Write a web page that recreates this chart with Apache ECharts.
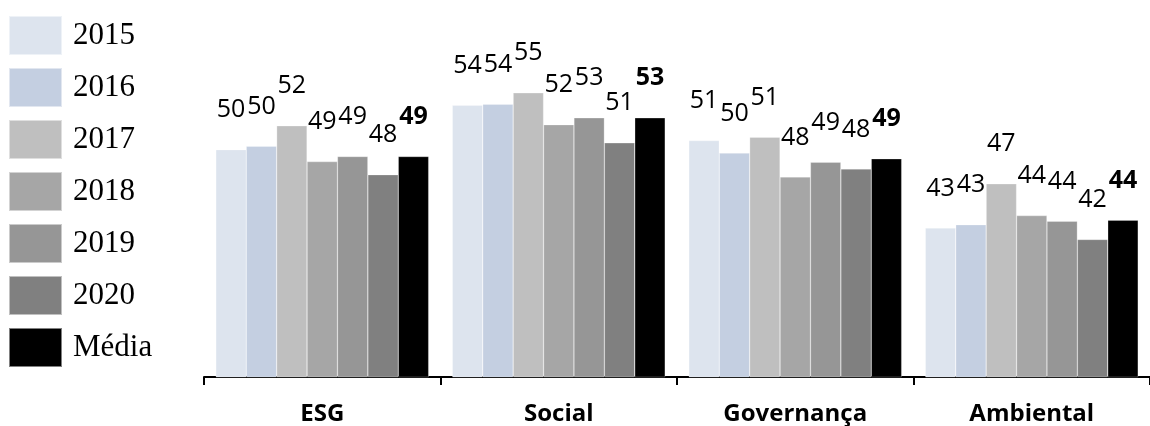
<!DOCTYPE html>
<html>
<head>
<meta charset="utf-8">
<script src="https://cdn.jsdelivr.net/npm/echarts@6/dist/echarts.min.js"></script>
<style>
html,body{margin:0;padding:0;background:#fff;}
#chart{width:1150px;height:426px;}
</style>
</head>
<body>
<div id="chart"></div>
<script>
const categories = ['ESG', 'Social', 'Governança', 'Ambiental'];
const seriesNames = ['2015', '2016', '2017', '2018', '2019', '2020', 'Média'];
const v2015 = [50.0, 53.9, 50.8, 43.1];
const v2016 = [50.3, 54.0, 49.7, 43.4];
const v2017 = [52.1, 55.0, 51.1, 47.0];
const v2018 = [48.95, 52.2, 47.6, 44.2];
const v2019 = [49.4, 52.8, 48.9, 43.7];
const v2020 = [47.8, 50.6, 48.3, 42.1];
const vMedia = [49.4, 52.8, 49.2, 43.8];
const colors = ['#dde4ee', '#c4cfe1', '#bfbfbf', '#a6a6a6', '#969696', '#808080', '#000000'];

const allValues = [v2015, v2016, v2017, v2018, v2019, v2020, vMedia];

const chart = echarts.init(document.getElementById('chart'), null, {renderer: 'canvas'});
const series = seriesNames.map((name, i) => ({
  name: name,
  type: 'bar',
  data: allValues[i],
  barGap: '0%',
  barCategoryGap: '10%',
  itemStyle: {color: colors[i], borderColor: 'rgba(255,255,255,0.5)', borderWidth: 0.5},
  label: {
    show: true,
    position: 'top',
    distance: 27,
    fontFamily: 'Open Sans',
    fontSize: 25,
    fontWeight: name === 'Média' ? 'bold' : 'normal',
    color: '#000',
    formatter: p => Math.round(p.value)
  }
}));

chart.setOption({
  animation: false,
  backgroundColor: '#fff',
  color: colors,
  legend: {
    orient: 'vertical',
    left: 3,
    top: 10,
    itemWidth: 53,
    itemHeight: 39,
    itemGap: 11,
    icon: 'rect',
    data: seriesNames,
    textStyle: {fontFamily: 'Liberation Serif', fontSize: 31, color: '#000', padding: [0, 0, 0, 6]}
  },
  grid: {left: 204, right: -10, top: 36, bottom: 47, containLabel: false},
  xAxis: {
    type: 'category',
    data: categories,
    axisLine: {lineStyle: {color: '#000', width: 2}},
    axisTick: {show: true, length: 8, lineStyle: {color: '#000', width: 2}},
    axisLabel: {fontFamily: 'Open Sans', fontWeight: 'bold', fontSize: 24, color: '#000', margin: 25}
  },
  yAxis: {
    type: 'value',
    min: 30,
    max: 60,
    show: false,
    splitLine: {show: false}
  },
  series: series
});
</script>
</body>
</html>
